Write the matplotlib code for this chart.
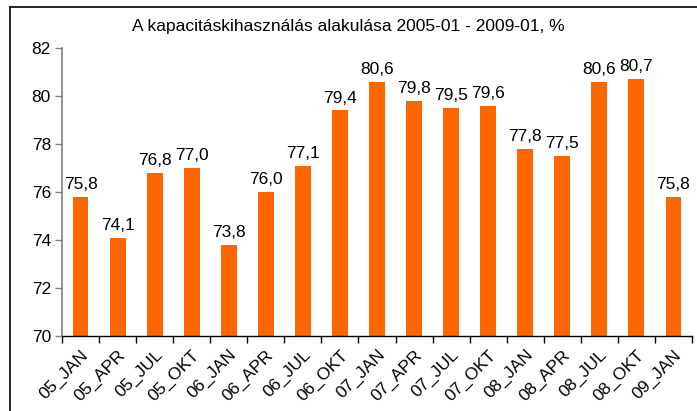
import matplotlib.pyplot as plt
from matplotlib.lines import Line2D

plt.rcParams['font.family'] = ['Liberation Sans', 'DejaVu Sans']

labels = ['05_JAN', '05_APR', '05_JUL', '05_OKT', '06_JAN', '06_APR', '06_JUL', '06_OKT',
          '07_JAN', '07_APR', '07_JUL', '07_OKT', '08_JAN', '08_APR', '08_JUL', '08_OKT', '09_JAN']
values = [75.8, 74.1, 76.8, 77.0, 73.8, 76.0, 77.1, 79.4,
          80.6, 79.8, 79.5, 79.6, 77.8, 77.5, 80.6, 80.7, 75.8]

fig = plt.figure(figsize=(6.97, 4.11), dpi=100)
ax = fig.add_axes([62 / 697, 1 - 336 / 411, 630 / 697, 288 / 411])

x = range(len(values))
ax.bar(x, [v - 70 for v in values], bottom=70, width=0.43, color='#FF6600')
for xi, v in zip(x, values):
    ax.text(xi, v + 0.2, f'{v:.1f}'.replace('.', ','), ha='center', va='bottom', fontsize=12.5)

ax.set_xlim(-0.5, len(values) - 0.5)
ax.set_ylim(70, 82)
ax.set_yticks(range(70, 83, 2))
ax.tick_params(axis='y', labelsize=12.5, length=5, width=1, color='#808080', pad=3)

# ticks between categories, labels at bar centres
ax.set_xticks([i - 0.5 for i in range(len(values) + 1)])
ax.set_xticklabels([])
ax.set_xticks(list(x), minor=True)
ax.set_xticklabels(labels, minor=True, rotation=45, ha='right', rotation_mode='anchor', fontsize=12.5)
ax.tick_params(axis='x', which='major', length=5, width=1)
ax.tick_params(axis='x', which='minor', length=0, pad=8)

ax.spines['top'].set_visible(False)
ax.spines['right'].set_visible(False)
ax.spines['left'].set_color('#808080')
ax.spines['left'].set_linewidth(1.2)
ax.spines['bottom'].set_linewidth(1)

fig.text(0.5, 1 - 27 / 411, 'A kapacitáskihasználás alakulása 2005-01 - 2009-01, %',
         ha='center', va='center', fontsize=12.5)

# outer chart frame
fig.add_artist(Line2D([10 / 697, 1], [1 - 7 / 411, 1 - 7 / 411], color='black', lw=1.2))
fig.add_artist(Line2D([10 / 697, 10 / 697], [0, 1 - 7 / 411], color='black', lw=1.2))

fig.savefig('out.png', dpi=100)
